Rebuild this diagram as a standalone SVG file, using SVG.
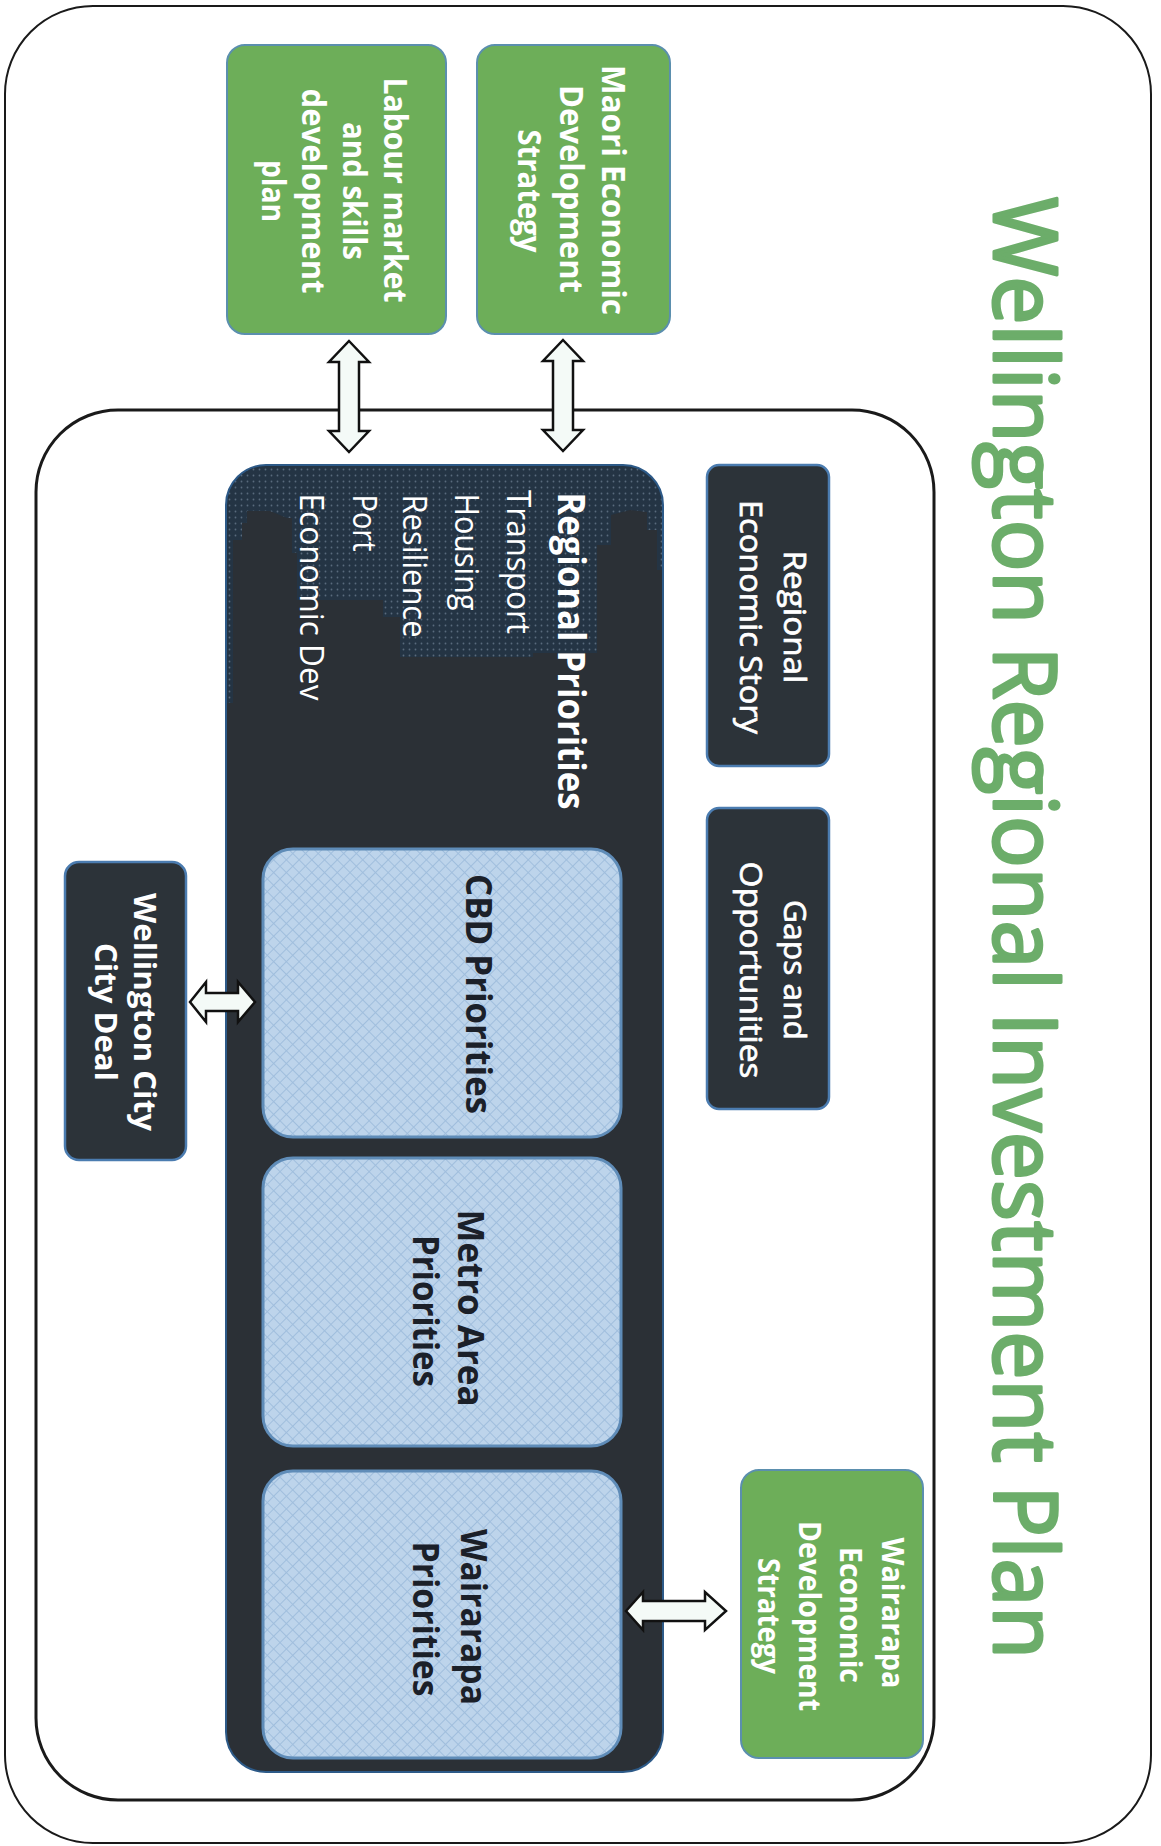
<svg xmlns="http://www.w3.org/2000/svg" width="1161" height="1846" viewBox="0 0 1161 1846">
<defs>
<style>
text{font-family:"Open Sans","Liberation Sans",sans-serif;text-anchor:middle}
.w{fill:#ffffff}
.b{font-weight:700}
.sb{font-weight:600}
.md{stroke:#ffffff;stroke-width:0.7}
.dk{fill:#1b2029}
.green{fill:#6dae59;stroke:#5b8fae;stroke-width:2}
.dark{fill:#2c3339;stroke:#4b7cb0;stroke-width:2.5}
.light{fill:url(#hatch);stroke:#5f8cb8;stroke-width:3}
.arrow{fill:#f4faf7;stroke:#111;stroke-width:2.5;stroke-linejoin:miter}
.frame{fill:none;stroke:#1a1a1a}
</style>
<pattern id="hatch" width="9" height="9" patternUnits="userSpaceOnUse" patternTransform="rotate(45)">
<rect width="9" height="9" fill="#bdd4eb"/>
<path d="M0 0H9M0 0V9" stroke="#a0bedd" stroke-width="2"/>
</pattern>
<pattern id="dots" width="6" height="6" patternUnits="userSpaceOnUse">
<circle cx="1.5" cy="1.5" r="0.9" fill="#66788a"/>
</pattern>
<clipPath id="rpclip"><rect x="226" y="465" width="437" height="1307" rx="40"/></clipPath>
</defs>

<g id="frame">
<rect class="frame" x="5" y="6" width="1146" height="1837" rx="88" stroke-width="2"/>
<rect class="frame" x="36" y="410" width="898" height="1390" rx="82" stroke-width="3"/>
</g>

<text id="title" transform="translate(994,928) rotate(90)" font-size="88" fill="#6cad6a" stroke="#6cad6a" stroke-width="3" stroke-linejoin="round" textLength="1462" lengthAdjust="spacingAndGlyphs">Wellington Regional Investment Plan</text>

<g id="node-maori">
<rect class="green" x="477" y="45" width="193" height="289" rx="18"/>
<text class="w b" font-size="32" transform="translate(602,190) rotate(90)" textLength="250" lengthAdjust="spacingAndGlyphs">Maori Economic</text>
<text class="w b" font-size="32" transform="translate(560,189) rotate(90)" textLength="208" lengthAdjust="spacingAndGlyphs">Development</text>
<text class="w b" font-size="32" transform="translate(518,191) rotate(90)" textLength="123" lengthAdjust="spacingAndGlyphs">Strategy</text>
</g>

<g id="node-labour">
<rect class="green" x="227" y="45" width="219" height="289" rx="18"/>
<text class="w b" font-size="32" transform="translate(384,190) rotate(90)" textLength="225" lengthAdjust="spacingAndGlyphs">Labour market</text>
<text class="w b" font-size="32" transform="translate(343,191) rotate(90)" textLength="138" lengthAdjust="spacingAndGlyphs">and skills</text>
<text class="w b" font-size="32" transform="translate(302,191) rotate(90)" textLength="205" lengthAdjust="spacingAndGlyphs">development</text>
<text class="w b" font-size="32" transform="translate(262,191) rotate(90)" textLength="62" lengthAdjust="spacingAndGlyphs">plan</text>
</g>

<g id="node-regional-priorities">
<rect x="226" y="465" width="437" height="1307" rx="40" fill="#2b3036"/>
<g clip-path="url(#rpclip)">
<polygon fill="#243444" points="226,465 663,465 663,570 657,570 657,530 647,530 647,512 630,510 611,515 611,545 597,545 597,653 533,653 533,657 400,657 400,617 383,617 383,600 297,600 297,553 292,553 292,518 287,518 270,511 247,511 247,523 242,523 242,540 233,540 233,703 226,703"/>
<polygon fill="url(#dots)" opacity="0.8" points="226,465 663,465 663,570 657,570 657,530 647,530 647,512 630,510 611,515 611,545 597,545 597,653 533,653 533,657 400,657 400,617 383,617 383,600 297,600 297,553 292,553 292,518 287,518 270,511 247,511 247,523 242,523 242,540 233,540 233,703 226,703"/>
</g>
<rect x="226" y="465" width="437" height="1307" rx="40" fill="none" stroke="#2d5a88" stroke-width="2"/>
<text class="w b" font-size="37" transform="translate(558,651) rotate(90)" textLength="317" lengthAdjust="spacingAndGlyphs">Regional Priorities</text>
<text class="w" font-size="32" transform="translate(507,562) rotate(90)" textLength="144" lengthAdjust="spacingAndGlyphs">Transport</text>
<text class="w" font-size="32" transform="translate(455,552) rotate(90)" textLength="117" lengthAdjust="spacingAndGlyphs">Housing</text>
<text class="w" font-size="32" transform="translate(403,566) rotate(90)" textLength="143" lengthAdjust="spacingAndGlyphs">Resilience</text>
<text class="w" font-size="32" transform="translate(353,523) rotate(90)" textLength="57" lengthAdjust="spacingAndGlyphs">Port</text>
<text class="w" font-size="32" transform="translate(300,597) rotate(90)" textLength="207" lengthAdjust="spacingAndGlyphs">Economic Dev</text>
</g>

<g id="node-cbd">
<rect class="light" x="263" y="849" width="358" height="288" rx="30"/>
<text class="dk b" font-size="36" transform="translate(466,994) rotate(90)" textLength="240" lengthAdjust="spacingAndGlyphs">CBD Priorities</text>
</g>

<g id="node-metro">
<rect class="light" x="263" y="1158" width="358" height="288" rx="30"/>
<text class="dk b" font-size="36" transform="translate(458,1308) rotate(90)" textLength="197" lengthAdjust="spacingAndGlyphs">Metro Area</text>
<text class="dk b" font-size="36" transform="translate(413,1311) rotate(90)" textLength="152" lengthAdjust="spacingAndGlyphs">Priorities</text>
</g>

<g id="node-wairarapa-priorities">
<rect class="light" x="263" y="1471" width="358" height="287" rx="30"/>
<text class="dk b" font-size="36" transform="translate(461,1617) rotate(90)" textLength="176" lengthAdjust="spacingAndGlyphs">Wairarapa</text>
<text class="dk b" font-size="36" transform="translate(413,1619) rotate(90)" textLength="155" lengthAdjust="spacingAndGlyphs">Priorities</text>
</g>

<g id="node-story">
<rect class="dark" x="707" y="465" width="122" height="301" rx="12"/>
<text class="w md" font-size="31" transform="translate(784,617) rotate(90)" textLength="133" lengthAdjust="spacingAndGlyphs">Regional</text>
<text class="w md" font-size="31" transform="translate(740,617) rotate(90)" textLength="234" lengthAdjust="spacingAndGlyphs">Economic Story</text>
</g>

<g id="node-gaps">
<rect class="dark" x="707" y="808" width="122" height="301" rx="12"/>
<text class="w md" font-size="31" transform="translate(784,970) rotate(90)" textLength="140" lengthAdjust="spacingAndGlyphs">Gaps and</text>
<text class="w md" font-size="31" transform="translate(740,970) rotate(90)" textLength="217" lengthAdjust="spacingAndGlyphs">Opportunities</text>
</g>

<g id="node-city-deal">
<rect class="dark" x="65" y="862" width="121" height="298" rx="14"/>
<text class="w b" font-size="31" transform="translate(134,1012) rotate(90)" textLength="238" lengthAdjust="spacingAndGlyphs">Wellington City</text>
<text class="w b" font-size="31" transform="translate(95,1012) rotate(90)" textLength="138" lengthAdjust="spacingAndGlyphs">City Deal</text>
</g>

<g id="node-wairarapa-strategy">
<rect class="green" x="741" y="1470" width="182" height="288" rx="18"/>
<text class="w b" font-size="30" transform="translate(882,1613) rotate(90)" textLength="151" lengthAdjust="spacingAndGlyphs">Wairarapa</text>
<text class="w b" font-size="30" transform="translate(840,1615) rotate(90)" textLength="136" lengthAdjust="spacingAndGlyphs">Economic</text>
<text class="w b" font-size="30" transform="translate(799,1616) rotate(90)" textLength="190" lengthAdjust="spacingAndGlyphs">Development</text>
<text class="w b" font-size="30" transform="translate(758,1616) rotate(90)" textLength="116" lengthAdjust="spacingAndGlyphs">Strategy</text>
</g>

<g id="connectors">
<polygon class="arrow" points="563,340 583,361 573,361 573,430 583,430 563,451 543,430 553,430 553,361 543,361"/>
<polygon class="arrow" points="349,341 369,362 359,362 359,431 369,431 349,452 329,431 339,431 339,362 329,362"/>
<polygon class="arrow" points="190,1002 206,982 206,993 238,993 238,982 255,1002 238,1022 238,1011 206,1011 206,1022"/>
<polygon class="arrow" points="626,1611 643,1592 643,1601 705,1601 705,1592 726,1611 705,1630 705,1621 643,1621 643,1630"/>
</g>
</svg>
